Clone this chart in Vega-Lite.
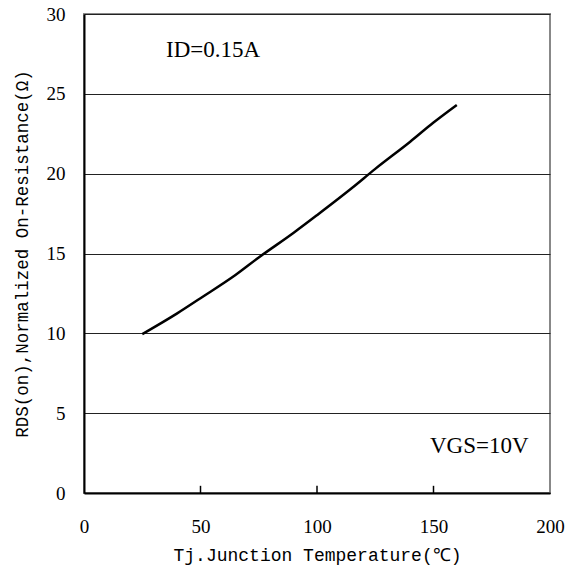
{
  "$schema": "https://vega.github.io/schema/vega-lite/v6.json",
  "width": 466,
  "height": 479,
  "autosize": {"type": "none"},
  "padding": {"left": 84, "top": 14, "right": 26, "bottom": 76},
  "background": "white",
  "config": {
    "view": {"stroke": "#888888", "strokeWidth": 2}
  },
  "datasets": {
    "curve": [
      {"T": 25, "R": 9.95},
      {"T": 40, "R": 11.25},
      {"T": 50, "R": 12.2},
      {"T": 65, "R": 13.65},
      {"T": 75, "R": 14.75},
      {"T": 90, "R": 16.3},
      {"T": 100, "R": 17.4},
      {"T": 115, "R": 19.1},
      {"T": 125, "R": 20.3},
      {"T": 140, "R": 22.0},
      {"T": 150, "R": 23.2},
      {"T": 160, "R": 24.3}
    ],
    "notes": [
      {"T": 35.2, "R": 27.3, "label": "ID=0.15A"},
      {"T": 148.5, "R": 2.5, "label": "VGS=10V"}
    ],
    "ticks": [
      {"T": 50, "y0": 0, "y1": 0.45},
      {"T": 100, "y0": 0, "y1": 0.45},
      {"T": 150, "y0": 0, "y1": 0.45}
    ]
  },
  "layer": [
    {
      "data": {"name": "curve"},
      "mark": {"type": "line", "color": "#000", "strokeWidth": 2.5, "interpolate": "monotone"},
      "encoding": {
        "x": {"field": "T", "type": "quantitative", "scale": {"domain": [0, 200], "nice": false},
          "axis": {"title": "Tj.Junction Temperature(℃)", "values": [0, 50, 100, 150, 200], "grid": false,
            "domainColor": "#000", "domainWidth": 2, "ticks": false,
            "labelFont": "Liberation Serif", "labelFontSize": 19, "labelColor": "#000", "labelPadding": 24, "labelFlush": false,
            "titleFont": "Liberation Mono", "titleFontSize": 18, "titleFontWeight": "normal", "titleColor": "#000", "titlePadding": 10}},
        "y": {"field": "R", "type": "quantitative", "scale": {"domain": [0, 30], "nice": false},
          "axis": {"title": "RDS(on),Normalized On-Resistance(Ω)", "values": [0, 5, 10, 15, 20, 25, 30], "grid": true, "gridColor": "#222", "gridWidth": 1,
            "domainColor": "#000", "domainWidth": 2, "ticks": false,
            "labelFont": "Liberation Serif", "labelFontSize": 19, "labelColor": "#000", "labelPadding": 19, "labelFlush": false,
            "titleFont": "Liberation Mono", "titleFontSize": 17.5, "titleFontWeight": "normal", "titleColor": "#000", "titlePadding": 15}}
      }
    },
    {
      "data": {"name": "ticks"},
      "mark": {"type": "rule", "color": "#000", "strokeWidth": 1.5},
      "encoding": {
        "x": {"field": "T", "type": "quantitative"},
        "y": {"field": "y0", "type": "quantitative"},
        "y2": {"field": "y1"}
      }
    },
    {
      "data": {"name": "notes"},
      "mark": {"type": "text", "align": "left", "baseline": "alphabetic", "font": "Liberation Serif", "fontSize": 23, "color": "#000"},
      "encoding": {
        "x": {"field": "T", "type": "quantitative"},
        "y": {"field": "R", "type": "quantitative"},
        "text": {"field": "label"}
      }
    }
  ]
}
